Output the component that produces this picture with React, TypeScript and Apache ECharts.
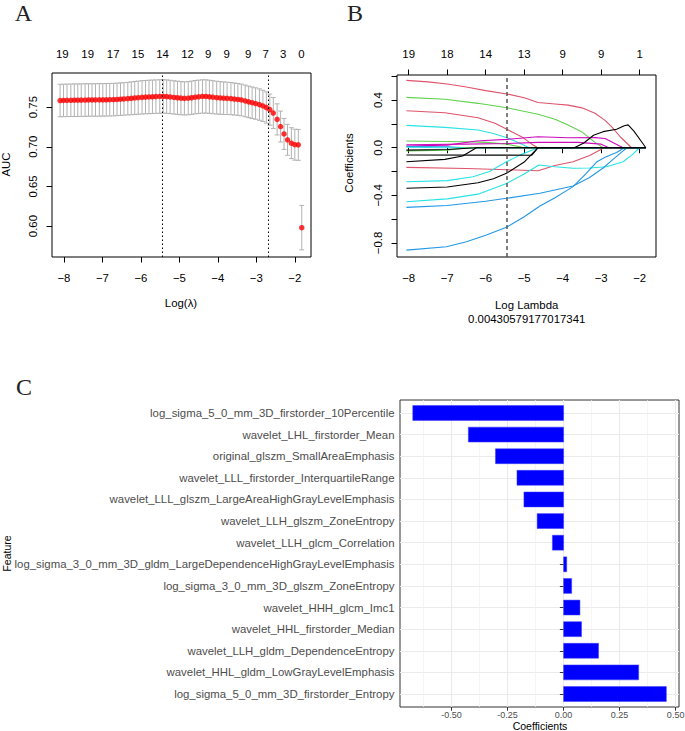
import React, { useEffect, useRef } from "react";
import * as echarts from "echarts";

// ---------- Panel A: cross-validated AUC ----------
const logLambda = [
  -8.10, -8.01, -7.92, -7.82, -7.73, -7.64, -7.55, -7.45, -7.36, -7.27,
  -7.18, -7.08, -6.99, -6.90, -6.81, -6.71, -6.62, -6.53, -6.44, -6.34,
  -6.25, -6.16, -6.07, -5.97, -5.88, -5.79, -5.70, -5.61, -5.51, -5.42,
  -5.33, -5.24, -5.14, -5.05, -4.96, -4.87, -4.77, -4.68, -4.59, -4.50,
  -4.40, -4.31, -4.22, -4.13, -4.03, -3.94, -3.85, -3.76, -3.66, -3.57,
  -3.48, -3.39, -3.29, -3.20, -3.11, -3.02, -2.92, -2.83, -2.74, -2.65,
  -2.56, -2.46, -2.37, -2.28, -2.19, -2.09, -2.00, -1.91, -1.82,
];
const meanAUC = [
  0.7583, 0.7584, 0.7585, 0.7586, 0.7587, 0.7587, 0.7588, 0.7589, 0.7590, 0.7590,
  0.7590, 0.7591, 0.7591, 0.7592, 0.7593, 0.7595, 0.7597, 0.7600, 0.7603, 0.7607,
  0.7611, 0.7615, 0.7619, 0.7623, 0.7626, 0.7628, 0.7630, 0.7632, 0.7634, 0.7635,
  0.7632, 0.7628, 0.7622, 0.7618, 0.7613, 0.7610, 0.7612, 0.7618, 0.7625, 0.7630,
  0.7634, 0.7634, 0.7630, 0.7625, 0.7619, 0.7615, 0.7612, 0.7610, 0.7607, 0.7602,
  0.7597, 0.7590, 0.7578, 0.7566, 0.7555, 0.7545, 0.7532, 0.7515, 0.7495, 0.7468,
  0.7425, 0.7345, 0.7255, 0.7162, 0.7088, 0.7045, 0.7026, 0.7024, 0.5980,
];
const seAUC = [
  0.0205, 0.0205, 0.0205, 0.0205, 0.0205, 0.0205, 0.0205, 0.0205, 0.0205, 0.0205,
  0.0205, 0.0205, 0.0205, 0.0205, 0.0205, 0.0205, 0.0205, 0.0205, 0.0205, 0.0205,
  0.0207, 0.0208, 0.0209, 0.0210, 0.0210, 0.0211, 0.0211, 0.0211, 0.0211, 0.0211,
  0.0211, 0.0210, 0.0210, 0.0209, 0.0209, 0.0209, 0.0209, 0.0210, 0.0210, 0.0210,
  0.0210, 0.0210, 0.0209, 0.0208, 0.0207, 0.0206, 0.0205, 0.0204, 0.0203, 0.0202,
  0.0201, 0.0200, 0.0200, 0.0199, 0.0199, 0.0198, 0.0198, 0.0197, 0.0197, 0.0196,
  0.0196, 0.0196, 0.0195, 0.0195, 0.0195, 0.0195, 0.0195, 0.0195, 0.0280,
];
const lambdaMinLog = -5.448;
const lambda1seLog = -2.68;
const topPosA = [-8.044, -7.384, -6.72, -6.078, -5.436, -4.787, -4.252, -3.774, -3.213, -2.761, -2.304, -1.826];
const topNzA = ["19", "19", "17", "15", "14", "12", "9", "9", "9", "7", "3", "0"];
const xTicksAB = [-8, -7, -6, -5, -4, -3, -2];
const yTicksA = [0.6, 0.65, 0.7, 0.75];

// ---------- Panel B: coefficient paths ----------
const topNzB = ["19", "18", "14", "13", "9", "9", "1"];
const yTicksB = [-0.8, -0.6, -0.4, -0.2, 0, 0.2, 0.4, 0.6];
const yLabelsB = [-0.8, -0.4, 0, 0.4];
const lambdaText = "0.00430579177017341";

const pathRed1 = [[-8.06, 0.566], [-7.5, 0.553], [-7.0, 0.535], [-6.5, 0.51], [-6.0, 0.48], [-5.45, 0.452], [-5.0, 0.42], [-4.64, 0.38], [-4.2, 0.368], [-3.86, 0.358], [-3.5, 0.335], [-3.16, 0.29], [-2.9, 0.23], [-2.73, 0.177], [-2.5, 0.09], [-2.21, 0], [-1.84, 0]];
const pathGreen1 = [[-8.06, 0.423], [-7.06, 0.407], [-6.2, 0.373], [-5.45, 0.336], [-4.64, 0.281], [-4.2, 0.24], [-3.86, 0.19], [-3.51, 0.135], [-3.16, 0.045], [-2.95, 0], [-1.84, 0]];
const pathRed2 = [[-8.06, 0.311], [-7.06, 0.294], [-6.2, 0.252], [-5.76, 0.205], [-5.45, 0.155], [-5.07, 0.093], [-4.8, 0.03], [-4.65, 0], [-1.84, 0]];
const pathCyan1 = [[-8.06, 0.188], [-7.06, 0.171], [-6.2, 0.149], [-5.8, 0.12], [-5.45, 0.084], [-5.07, 0.031], [-4.88, 0], [-1.84, 0]];
const pathGreen2 = [[-8.06, 0.056], [-6.5, 0.05], [-6.0, 0.045], [-5.45, 0.03], [-5.0, 0], [-1.84, 0]];
const pathMagenta1 = [[-8.06, 0.014], [-7.0, 0.022], [-6.24, 0.056], [-5.45, 0.07], [-4.64, 0.092], [-3.86, 0.084], [-3.16, 0.085], [-2.9, 0.078], [-2.43, 0], [-1.84, 0]];
const pathMagenta2 = [[-8.06, 0.025], [-6.5, 0.03], [-5.45, 0.035], [-4.64, 0.045], [-3.6, 0.045], [-3.0, 0.03], [-2.8, 0], [-1.84, 0]];
const pathBlue1 = [[-8.06, 0.01], [-7.0, 0.008], [-6.5, 0], [-1.84, 0]];
const pathCyan2 = [[-8.06, 0.004], [-7.5, 0.002], [-7.2, 0], [-1.84, 0]];
const pathGreen3 = [[-8.06, -0.028], [-7.0, -0.02], [-6.5, 0], [-1.84, 0]];
const pathRed3 = [[-8.06, -0.165], [-6.5, -0.175], [-5.45, -0.185], [-4.64, -0.193], [-4.2, -0.15], [-3.73, -0.118], [-3.3, -0.065], [-3.03, -0.02], [-2.95, 0], [-1.84, 0]];
const pathCyan3 = [[-8.06, -0.286], [-7.0, -0.276], [-6.33, -0.244], [-5.9, -0.2], [-5.46, -0.118], [-5.1, -0.06], [-4.64, 0], [-1.84, 0]];
const pathCyan4 = [[-8.06, -0.454], [-7.0, -0.43], [-6.2, -0.39], [-5.46, -0.3], [-5.0, -0.22], [-4.62, -0.145], [-4.2, -0.16], [-3.73, -0.173], [-3.3, -0.17], [-2.86, -0.16], [-2.43, -0.118], [-2.2, -0.06], [-2.0, 0], [-1.84, 0]];
const pathBlue2 = [[-8.06, -0.501], [-7.0, -0.485], [-6.0, -0.45], [-5.46, -0.425], [-4.59, -0.383], [-3.73, -0.322], [-3.3, -0.25], [-2.95, -0.17], [-2.7, -0.1], [-2.5, -0.045], [-2.33, 0], [-1.84, 0]];
const pathBlue3 = [[-8.06, -0.86], [-7.02, -0.832], [-6.5, -0.79], [-5.98, -0.734], [-5.46, -0.669], [-5.0, -0.58], [-4.59, -0.49], [-4.2, -0.42], [-3.73, -0.327], [-3.4, -0.22], [-3.12, -0.12], [-2.9, -0.08], [-2.6, -0.04], [-2.4, 0], [-1.84, 0]];
const pathBlack1 = [[-8.06, -0.02], [-7.0, -0.015], [-6.24, 0], [-1.84, 0]];
const pathBlack2 = [[-8.06, -0.118], [-7.06, -0.098], [-6.6, -0.07], [-6.24, 0], [-1.84, 0]];
const pathBlack3 = [[-8.06, -0.341], [-7.0, -0.33], [-6.2, -0.294], [-5.8, -0.26], [-5.46, -0.215], [-5.0, -0.12], [-4.64, 0], [-1.84, 0]];
const pathBlack4 = [[-8.06, -0.061], [-6.0, -0.062], [-4.8, -0.063], [-4.64, 0], [-3.7, 0], [-3.45, 0.04], [-3.2, 0.105], [-2.95, 0.135], [-2.6, 0.155], [-2.4, 0.185], [-2.3, 0.192], [-2.15, 0.14], [-1.95, 0.05], [-1.84, 0]];

const RBLACK = "#000000", RRED = "#DF536B", RGREEN = "#61D04F", RBLUE = "#2297E6", RCYAN = "#28E2E5", RMAGENTA = "#CD0BBC";
const bPaths = [pathRed1, pathGreen1, pathRed2, pathCyan1, pathGreen2, pathMagenta1, pathMagenta2, pathBlue1, pathCyan2, pathGreen3, pathRed3, pathCyan3, pathCyan4, pathBlue2, pathBlue3, pathBlack1, pathBlack2, pathBlack3, pathBlack4];
const bColors = [RRED, RGREEN, RRED, RCYAN, RGREEN, RMAGENTA, RMAGENTA, RBLUE, RCYAN, RGREEN, RRED, RCYAN, RCYAN, RBLUE, RBLUE, RBLACK, RBLACK, RBLACK, RBLACK];

// ---------- Panel C: selected features ----------
const features = [
  "log_sigma_5_0_mm_3D_firstorder_10Percentile",
  "wavelet_LHL_firstorder_Mean",
  "original_glszm_SmallAreaEmphasis",
  "wavelet_LLL_firstorder_InterquartileRange",
  "wavelet_LLL_glszm_LargeAreaHighGrayLevelEmphasis",
  "wavelet_LLH_glszm_ZoneEntropy",
  "wavelet_LLH_glcm_Correlation",
  "log_sigma_3_0_mm_3D_gldm_LargeDependenceHighGrayLevelEmphasis",
  "log_sigma_3_0_mm_3D_glszm_ZoneEntropy",
  "wavelet_HHH_glcm_Imc1",
  "wavelet_HHL_firstorder_Median",
  "wavelet_LLH_gldm_DependenceEntropy",
  "wavelet_HHL_gldm_LowGrayLevelEmphasis",
  "log_sigma_5_0_mm_3D_firstorder_Entropy",
];
const coefs = [-0.673, -0.425, -0.304, -0.208, -0.177, -0.118, -0.050, 0.014, 0.036, 0.073, 0.080, 0.156, 0.335, 0.4585];
const xMajorC = [-0.5, -0.25, 0, 0.25, 0.5];
const xMinorC = [-0.625, -0.375, -0.125, 0.125, 0.375];

const FONT = '"Liberation Sans", Arial, sans-serif';
const SERIF = '"Liberation Serif", "Times New Roman", serif';
const RFS = 11.4;

const nearest = (arr: number[], v: number) => {
  let bi = 0, bd = Infinity;
  arr.forEach((a, i) => { const d = Math.abs(a - v); if (d < bd) { bd = d; bi = i; } });
  return bi;
};
const rMinus = (s: string) => s.replace("-", "\u2212");

function buildOption(): any {
  const catPos = features.map((_, i) => i + 1);
  const barw = 0.01 * (Math.max(...logLambda) - Math.min(...logLambda));
  const errData = logLambda.map((x, i) => [x, meanAUC[i] - seAUC[i], meanAUC[i] + seAUC[i]]);

  const rAxisLabel = { color: "#000", fontSize: RFS, fontFamily: FONT };
  const rTick = { lineStyle: { color: "#000", width: 1 }, length: 5.5 };

  const text = (t: string, x: number, y: number, opts: any = {}) => ({
    type: "text",
    x, y,
    rotation: opts.rotation || 0,
    silent: true,
    style: {
      text: t,
      x: 0, y: 0,
      fill: opts.fill || "#000",
      font: opts.font || `${RFS}px ${FONT}`,
      textAlign: "center", textVerticalAlign: "middle",
      align: "center", verticalAlign: "middle",
    },
  });

  const bSeries = bPaths.map((p, i) => ({
    type: "line",
    xAxisIndex: 2, yAxisIndex: 1,
    data: p,
    showSymbol: false,
    symbol: "none",
    smooth: false,
    silent: true,
    lineStyle: { color: bColors[i], width: 1.1 },
    z: 2 + i * 0.01,
    ...(i === 0 ? {
      markLine: {
        symbol: "none", silent: true, label: { show: false },
        lineStyle: { type: [4, 3], color: "#555", width: 1.5 },
        data: [{ xAxis: lambdaMinLog }],
      },
    } : {}),
  }));

  return {
    animation: false,
    backgroundColor: "#ffffff",
    textStyle: { fontFamily: FONT },
    grid: [
      { left: 52, top: 73, width: 259, height: 184, show: true, borderColor: "#000", borderWidth: 1, backgroundColor: "transparent", outerBoundsMode: "none", containLabel: false },
      { left: 397, top: 75, width: 259, height: 182, show: true, borderColor: "#000", borderWidth: 1, backgroundColor: "transparent", outerBoundsMode: "none", containLabel: false },
      { left: 400, top: 400, width: 279, height: 307, show: true, borderColor: "#333333", borderWidth: 1, backgroundColor: "transparent", outerBoundsMode: "none", containLabel: false },
    ],
    xAxis: [
      { // 0: A bottom
        gridIndex: 0, type: "value", min: -8.31, max: -1.58, position: "bottom",
        axisLine: { show: false }, splitLine: { show: false },
        axisTick: { show: true, customValues: xTicksAB, ...rTick },
        axisLabel: { ...rAxisLabel, customValues: xTicksAB, margin: 15, formatter: (v: number) => rMinus(String(v)) },
      },
      { // 1: A top
        gridIndex: 0, type: "value", min: -8.31, max: -1.58, position: "top",
        axisLine: { show: false }, splitLine: { show: false },
        axisTick: { show: false },
        axisLabel: { ...rAxisLabel, customValues: topPosA, margin: 14, formatter: (v: number) => topNzA[nearest(topPosA, v)] },
      },
      { // 2: B bottom
        gridIndex: 1, type: "value", min: -8.304, max: -1.576, position: "bottom",
        axisLine: { show: false }, splitLine: { show: false },
        axisTick: { show: true, customValues: xTicksAB, ...rTick },
        axisLabel: { ...rAxisLabel, customValues: xTicksAB, margin: 15, formatter: (v: number) => rMinus(String(v)) },
      },
      { // 3: B top
        gridIndex: 1, type: "value", min: -8.304, max: -1.576, position: "top",
        axisLine: { show: false }, splitLine: { show: false },
        axisTick: { show: true, customValues: xTicksAB, ...rTick },
        axisLabel: { ...rAxisLabel, customValues: xTicksAB, margin: 16, formatter: (v: number) => topNzB[nearest(xTicksAB, v)] },
      },
      { // 4: C bottom (major)
        gridIndex: 2, type: "value", min: -0.73, max: 0.515, position: "bottom",
        axisLine: { show: false },
        splitLine: { show: true, lineStyle: { color: "#EBEBEB", width: 1.1 } },
        axisTick: { show: true, customValues: xMajorC, length: 3.7, lineStyle: { color: "#333333", width: 1 } },
        axisLabel: { customValues: xMajorC, color: "#4D4D4D", fontSize: 9, fontFamily: FONT, margin: 3.5, formatter: (v: number) => v.toFixed(2) },
      },
      { // 5: C top (minor gridlines only)
        gridIndex: 2, type: "value", min: -0.73, max: 0.515, position: "top",
        axisLine: { show: false },
        splitLine: { show: true, lineStyle: { color: "#F0F0F0", width: 0.7 } },
        axisTick: { show: false, customValues: xMinorC },
        axisLabel: { show: false },
      },
    ],
    yAxis: [
      { // 0: A
        gridIndex: 0, type: "value", min: 0.561, max: 0.793,
        axisLine: { show: false }, splitLine: { show: false },
        axisTick: { show: true, customValues: yTicksA, ...rTick },
        axisLabel: { ...rAxisLabel, customValues: yTicksA, rotate: 90, margin: 14, formatter: (v: number) => v.toFixed(2) },
      },
      { // 1: B
        gridIndex: 1, type: "value", min: -0.918, max: 0.611,
        axisLine: { show: false }, splitLine: { show: false },
        axisTick: { show: true, customValues: yTicksB, ...rTick },
        axisLabel: { ...rAxisLabel, customValues: yLabelsB, rotate: 90, margin: 14, formatter: (v: number) => rMinus(v.toFixed(1)) },
      },
      { // 2: C
        gridIndex: 2, type: "value", min: 0.4, max: 14.6, inverse: true,
        axisLine: { show: false },
        splitLine: { show: true, lineStyle: { color: "#EBEBEB", width: 1.1 } },
        axisTick: { show: true, customValues: catPos, length: 3.7, lineStyle: { color: "#333333", width: 1 } },
        axisLabel: { customValues: catPos, color: "#4D4D4D", fontSize: RFS, fontFamily: FONT, margin: 5.5, formatter: (v: number) => features[Math.round(v) - 1] },
      },
    ],
    series: [
      {
        type: "custom",
        xAxisIndex: 0, yAxisIndex: 0,
        data: errData,
        encode: { x: 0, y: [1, 2] },
        silent: true,
        z: 2,
        renderItem: (params: any, api: any) => {
          const x = api.value(0), lo = api.value(1), hi = api.value(2);
          const pHi = api.coord([x, hi]);
          const pLo = api.coord([x, lo]);
          const half = api.size([barw, 0])[0];
          const st = { stroke: "#B2B2B2", lineWidth: 1 };
          return {
            type: "group",
            children: [
              { type: "line", shape: { x1: pHi[0], y1: pHi[1], x2: pLo[0], y2: pLo[1] }, style: st },
              { type: "line", shape: { x1: pHi[0] - half, y1: pHi[1], x2: pHi[0] + half, y2: pHi[1] }, style: st },
              { type: "line", shape: { x1: pLo[0] - half, y1: pLo[1], x2: pLo[0] + half, y2: pLo[1] }, style: st },
            ],
          };
        },
      },
      {
        type: "scatter",
        xAxisIndex: 0, yAxisIndex: 0,
        data: logLambda.map((x, i) => [x, meanAUC[i]]),
        symbol: "circle",
        symbolSize: 5.5,
        itemStyle: { color: "#FF0000" },
        silent: true,
        z: 3,
        markLine: {
          symbol: "none", silent: true, label: { show: false },
          lineStyle: { type: [1.5, 2.5], color: "#000", width: 1 },
          data: [{ xAxis: lambdaMinLog }, { xAxis: lambda1seLog }],
        },
      },
      ...bSeries,
      {
        type: "custom",
        xAxisIndex: 4, yAxisIndex: 2,
        data: coefs.map((v, i) => [i + 1, v]),
        encode: { x: 1, y: 0 },
        silent: true,
        z: 3,
        renderItem: (params: any, api: any) => {
          const y = api.value(0), v = api.value(1);
          const p0 = api.coord([0, y]);
          const p1 = api.coord([v, y]);
          const h = Math.abs(api.size([0, 0.69])[1]);
          return {
            type: "rect",
            shape: { x: Math.min(p0[0], p1[0]), y: p0[1] - h / 2, width: Math.abs(p1[0] - p0[0]), height: h },
            style: { fill: "#0000FF", stroke: "#3D3DFF", lineWidth: 0.5 },
          };
        },
      },
    ],
    graphic: [
      text("A", 23.5, 12.5, { font: `24px ${SERIF}`, fill: "#222" }),
      text("B", 355, 12.5, { font: `24px ${SERIF}`, fill: "#222" }),
      text("C", 24, 386.5, { font: `24px ${SERIF}`, fill: "#222" }),
      text("AUC", 6, 164.5, { rotation: Math.PI / 2 }),
      text("Log(\u03bb)", 181, 303),
      text("Coefficients", 349, 163, { rotation: Math.PI / 2 }),
      text("Log Lambda", 526.7, 305),
      text(lambdaText, 526.7, 319),
      text("Coefficients", 540, 725.5, { font: `10.5px ${FONT}` }),
      text("Feature", 7, 553.5, { rotation: Math.PI / 2, font: `10.5px ${FONT}` }),
    ],
  };
}

export default function App() {
  const ref = useRef<HTMLDivElement>(null);
  useEffect(() => {
    if (!ref.current) return;
    const chart = echarts.init(ref.current, undefined, { renderer: "svg" });
    chart.setOption(buildOption());
    return () => chart.dispose();
  }, []);
  return (
    <div
      ref={ref}
      style={{ position: "absolute", left: 0, top: 0, width: 685, height: 731, background: "#fff" }}
    />
  );
}
